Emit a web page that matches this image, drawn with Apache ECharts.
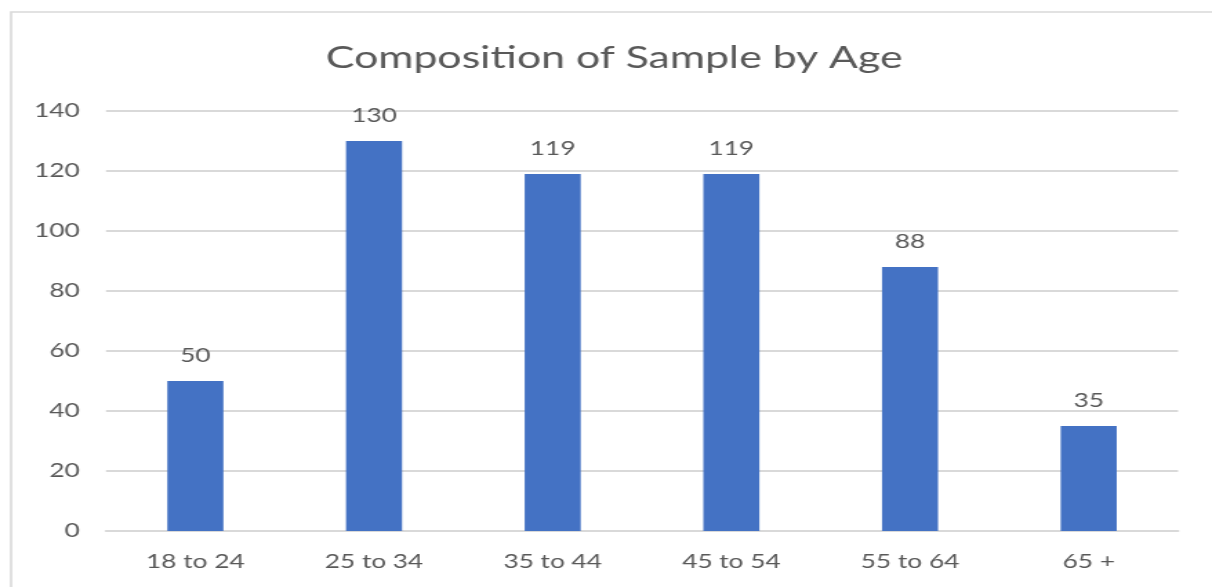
<!DOCTYPE html>
<html>
<head>
<meta charset="utf-8">
<script src="https://cdn.jsdelivr.net/npm/echarts@6/dist/echarts.min.js"></script>
<style>
  html, body { margin: 0; padding: 0; background: #ffffff; overflow: hidden; }
  /* the chart is laid out narrower and widened horizontally, giving the broad lettering */
  #chart { width: 878px; height: 587px; transform: scaleX(1.3804); transform-origin: 0 0; }
</style>
</head>
<body>
<div id="chart"></div>
<script>
// Age groups and number of respondents in each
const categories = ['18 to 24', '25 to 34', '35 to 44', '45 to 54', '55 to 64', '65 +'];
const counts = [50, 130, 119, 119, 88, 35];
const yTicks = { min: 0, max: 140, interval: 20 };

const textColor = '#595959';
const fontFamily = 'Lato, "Open Sans", sans-serif';

const chart = echarts.init(document.getElementById('chart'), null, { renderer: 'canvas', width: 878, height: 587 });
chart.setOption({
  backgroundColor: '#ffffff',
  animation: false,
  graphic: [{
    type: 'rect',
    shape: { x: 8, y: 12, width: 1000, height: 800 },
    style: { fill: 'none', stroke: '#d9d9d9', lineWidth: 1.6 },
    silent: true
  }],
  title: {
    text: 'Composition of Sample by Age',
    left: 231,
    top: 37,
    textStyle: { color: textColor, fontSize: 31, fontWeight: 'normal', fontFamily: fontFamily }
  },
  grid: { left: 76.8, right: 24.6, top: 111, bottom: 56, containLabel: false },
  xAxis: {
    type: 'category',
    data: categories,
    axisLine: { show: true, lineStyle: { color: '#d9d9d9', width: 2 } },
    axisTick: { show: false },
    axisLabel: { color: textColor, fontSize: 19, fontFamily: fontFamily, margin: 21 }
  },
  yAxis: {
    type: 'value',
    min: yTicks.min,
    max: yTicks.max,
    interval: yTicks.interval,
    axisLine: { show: false },
    axisTick: { show: false },
    splitLine: { lineStyle: { color: '#d9d9d9', width: 2 } },
    axisLabel: { color: textColor, fontSize: 19, fontFamily: fontFamily, margin: 19 }
  },
  series: [{
    type: 'bar',
    data: counts,
    barWidth: 40.6,
    itemStyle: { color: '#4472C4' },
    label: {
      show: true,
      position: 'top',
      distance: 16,
      color: textColor,
      fontSize: 19,
      fontFamily: fontFamily
    }
  }]
});
</script>
</body>
</html>
